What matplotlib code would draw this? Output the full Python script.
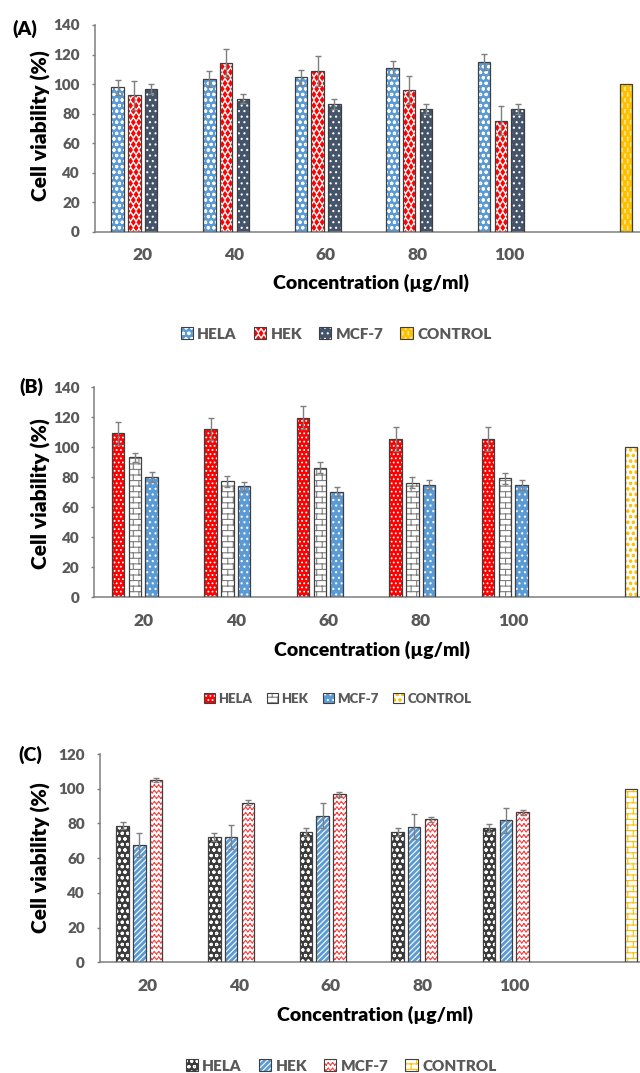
import warnings

import numpy as np
import matplotlib
matplotlib.use('Agg')
import matplotlib.pyplot as plt
import matplotlib.hatch as mhatch
from matplotlib.path import Path
from matplotlib.patches import Patch

warnings.filterwarnings('ignore', category=matplotlib.MatplotlibDeprecationWarning)

plt.rcParams['font.family'] = ['Lato', 'DejaVu Sans']
plt.rcParams['font.weight'] = 'heavy'
plt.rcParams['hatch.linewidth'] = 0.8

# ---------------- data ----------------
conc = ['20', '40', '60', '80', '100']
control = 100

# (A)
a_hela = [97.7, 103.4, 104.5, 110.7, 115.2]
a_hela_err = [5.2, 5.2, 5.0, 5.2, 5.4]
a_hek = [92.3, 114.3, 108.8, 95.9, 75.3]
a_hek_err = [10.0, 9.3, 10.0, 9.5, 9.7]
a_mcf = [96.6, 90.2, 86.2, 83.0, 83.2]
a_mcf_err = [3.2, 3.2, 3.4, 3.2, 3.2]

# (B)
b_hela = [109.4, 112.3, 119.8, 105.6, 105.6]
b_hela_err = [7.7, 7.5, 7.8, 7.8, 8.0]
b_hek = [93.2, 77.4, 86.5, 76.5, 79.4]
b_hek_err = [3.1, 3.6, 3.5, 3.8, 3.6]
b_mcf = [80.3, 74.1, 70.3, 75.0, 75.0]
b_mcf_err = [3.3, 3.1, 2.9, 2.9, 3.3]

# (C)
c_hela = [78.8, 72.3, 75.1, 75.1, 77.3]
c_hela_err = [2.1, 2.3, 2.5, 2.4, 2.1]
c_hek = [67.6, 72.3, 84.4, 78.2, 81.7]
c_hek_err = [7.0, 6.9, 7.1, 7.0, 7.1]
c_mcf = [105.0, 91.9, 96.7, 82.3, 86.5]
c_mcf_err = [1.4, 1.5, 1.5, 1.3, 1.5]

names = ['HELA', 'HEK', 'MCF-7', 'CONTROL']


# ---------------- extra hatch patterns ----------------
class ZigZagHatch(mhatch.HatchPatternBase):
    """'z' : horizontal rows of zigzag lines."""
    def __init__(self, hatch, density):
        self.num_rows = hatch.count('z') * density
        self.num_teeth = int(self.num_rows * 1.3)
        self.num_vertices = self.num_rows * self.num_teeth * 4

    def set_vertices_and_codes(self, vertices, codes):
        amp = 0.22 / self.num_rows
        xs = np.linspace(0, 1, 2 * self.num_teeth + 1)
        dy = np.where(np.arange(xs.size) % 2 == 0, -amp, amp)
        segs = []
        for y in (np.arange(self.num_rows) + 0.5) / self.num_rows:
            pts = np.column_stack([xs, y + dy])
            segs.append(np.stack([pts[:-1], pts[1:]], axis=1).reshape(-1, 2))
        vertices[:] = np.concatenate(segs)
        codes[0::2] = Path.MOVETO
        codes[1::2] = Path.LINETO


class BrickHatch(mhatch.HatchPatternBase):
    """'b' : brick wall."""
    def __init__(self, hatch, density):
        self.num_rows = hatch.count('b') * density
        self.num_bricks = self.num_rows // 2
        if self.num_rows == 0:
            self.num_vertices = 0
        else:
            self.num_vertices = (self.num_rows * 2 +
                                 (self.num_rows + 1) * self.num_bricks * 2)

    def set_vertices_and_codes(self, vertices, codes):
        n, m = self.num_rows, self.num_bricks
        segs = []
        for i in range(n):
            y = (i + 0.5) / n
            segs += [(0, y), (1, y)]
        for i in range(n + 1):
            y0 = max(0.0, (i - 0.5) / n)
            y1 = min(1.0, (i + 0.5) / n)
            shift = 0.5 / m if i % 2 else 0.0
            for j in range(m):
                x = j / m + shift
                segs += [(x, y0), (x, y1)]
        vertices[:] = np.array(segs, float)
        codes[0::2] = Path.MOVETO
        codes[1::2] = Path.LINETO


def _polygon_codes(k):
    return np.array([Path.MOVETO] + [Path.LINETO] * (k - 2) + [Path.CLOSEPOLY],
                    dtype=Path.code_type)


class DiamondHatch(mhatch.Shapes):
    """'d' : filled diamonds."""
    size = 0.32
    filled = True

    def __init__(self, hatch, density):
        self.num_rows = hatch.count('d') * density
        self.shape_vertices = np.array([[0, -1.4], [1, 0], [0, 1.4], [-1, 0], [0, -1.4]], float)
        self.shape_codes = _polygon_codes(5)
        super().__init__(hatch, density)


class CheckHatch(mhatch.Shapes):
    """'q' : staggered squares (checker)."""
    size = 0.25
    filled = True

    def __init__(self, hatch, density):
        self.num_rows = hatch.count('q') * density
        self.shape_vertices = np.array([[-1, -2], [1, -2], [1, 2], [-1, 2], [-1, -2]], float)
        self.shape_codes = _polygon_codes(5)
        super().__init__(hatch, density)


class BigDotHatch(mhatch.Circles):
    """'p' : larger filled dots."""
    size = 0.22
    filled = True

    def __init__(self, hatch, density):
        self.num_rows = hatch.count('p') * density
        super().__init__(hatch, density)


mhatch._hatch_types.extend([ZigZagHatch, BrickHatch, DiamondHatch, CheckHatch, BigDotHatch])

# ---------------- styles ----------------
OUTLINE = '#3f3f3f'
ERRCOL = '#7f7f7f'
GREY = '#595959'
SLOT = 0.182
WIDTH = 0.135

W, H = 640, 1073
fig = plt.figure(figsize=(W / 100, H / 100), dpi=100)


def draw_panel(left, top, bottom, c0, sp, ymax, series, ctrl, tag, tag_xy,
               ylab_xy, xlab_xy, leg_xy, leg_size):
    ax = fig.add_axes([left / W, 1 - bottom / H, (W - left) / W, (bottom - top) / H])
    x = np.arange(len(conc))
    handles = []
    for k, (vals, errs, face, hatch, ink) in enumerate(series):
        xs = x + (k - 1.5) * SLOT
        ax.bar(xs, vals, WIDTH, color=face, hatch=hatch, edgecolor=ink,
               linewidth=0, zorder=2)
        ax.bar(xs, vals, WIDTH, facecolor='none', edgecolor=OUTLINE,
               linewidth=0.9, zorder=3)
        ax.errorbar(xs, vals, yerr=errs, fmt='none', ecolor=ERRCOL,
                    elinewidth=1.0, capsize=2.5, capthick=1.0, zorder=4)
        handles.append((Patch(facecolor=face, hatch=hatch, edgecolor=ink, lw=0),
                        Patch(facecolor='none', edgecolor=OUTLINE, lw=0.8)))
    face, hatch, ink = ctrl
    xc = len(conc) + 1.5 * SLOT
    ax.bar([xc], [control], WIDTH, color=face, hatch=hatch, edgecolor=ink,
           linewidth=0, zorder=2)
    ax.bar([xc], [control], WIDTH, facecolor='none', edgecolor=OUTLINE,
           linewidth=0.9, zorder=3)
    handles.append((Patch(facecolor=face, hatch=hatch, edgecolor=ink, lw=0),
                    Patch(facecolor='none', edgecolor=OUTLINE, lw=0.8)))

    ax.set_xlim((left - c0) / sp, (W - c0) / sp)
    ax.set_ylim(0, ymax)
    ax.set_yticks(np.arange(0, ymax + 1, 20))
    ax.set_xticks(np.arange(len(conc) + 1))
    ax.set_xticklabels(conc + [''])
    for s in ('top', 'right'):
        ax.spines[s].set_visible(False)
    for s in ('left', 'bottom'):
        ax.spines[s].set_color('#7f7f7f')
        ax.spines[s].set_linewidth(1.1)
    ax.tick_params(axis='y', length=2.5, width=1, color='#7f7f7f', pad=8,
                   labelsize=11, labelcolor=GREY)
    ax.tick_params(axis='x', length=0, pad=11, labelsize=12.5, labelcolor=GREY)
    ax.patch.set_alpha(0)

    fig.text(tag_xy[0] / W, 1 - tag_xy[1] / H, tag, fontsize=14,
             ha='center', va='center', color='black')
    fig.text(ylab_xy[0] / W, 1 - ylab_xy[1] / H, 'Cell viability (%)',
             fontsize=15, rotation=90, ha='center', va='center', color='black')
    fig.text(xlab_xy[0] / W, 1 - xlab_xy[1] / H, 'Concentration (µg/ml)',
             fontsize=14, ha='center', va='center', color='black')
    fig.legend(handles, names, loc='center',
               bbox_to_anchor=(leg_xy[0] / W, 1 - leg_xy[1] / H),
               ncol=4, frameon=False, fontsize=leg_size, labelcolor=GREY,
               handlelength=0.8, handleheight=0.8, handletextpad=0.3,
               columnspacing=1.1, borderaxespad=0)
    return ax


# (A)
draw_panel(94.5, 25, 231.7, 142.7, 91.65, 140,
           [(a_hela, a_hela_err, '#5b9bd5', 'ooo', 'white'),
            (a_hek, a_hek_err, 'white', 'ddd', '#ff0000'),
            (a_mcf, a_mcf_err, '#44546a', '...', 'white')],
           ('#ffe699', 'qqq', '#ffc000'),
           '(A)', (25, 29), (41, 126), (371, 283), (336, 334), 11)

# (B)
draw_panel(94, 387.3, 597.3, 143.3, 92.5, 140,
           [(b_hela, b_hela_err, '#ff0000', '....', 'white'),
            (b_hek, b_hek_err, 'white', 'bbb', '#7f7f7f'),
            (b_mcf, b_mcf_err, '#5b9bd5', '...', 'white')],
           ('white', 'ppp', '#ffc000'),
           '(B)', (31, 387), (41, 494), (372, 650), (338, 699), 9.5)

# (C)
draw_panel(99.5, 754, 962.3, 147.7, 91.65, 120,
           [(c_hela, c_hela_err, '#3b3b3b', 'ooo', 'white'),
            (c_hek, c_hek_err, '#5b9bd5', '//////', 'white'),
            (c_mcf, c_mcf_err, 'white', 'zzz', '#ff4040')],
           ('white', 'bbb', '#ffc000'),
           '(C)', (30, 755), (41, 858), (375, 1015), (341, 1066), 11)

fig.savefig('out.png', dpi=100)
